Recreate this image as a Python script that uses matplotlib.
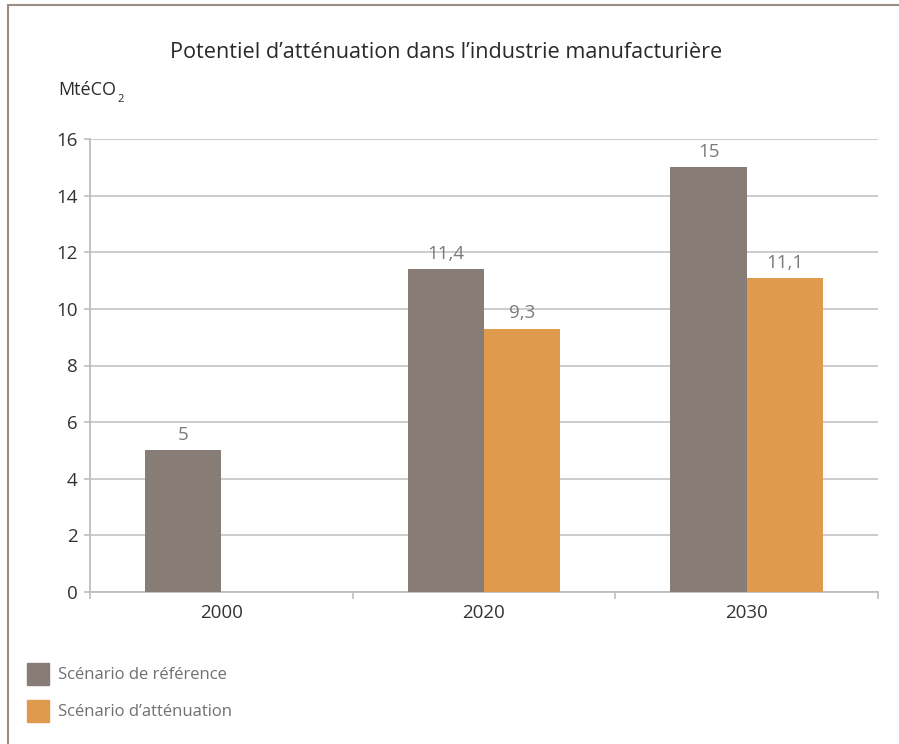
import matplotlib
matplotlib.use("Agg")
import matplotlib.pyplot as plt
from matplotlib.patches import Rectangle
from matplotlib.lines import Line2D
import numpy as np

plt.rcParams['font.family'] = ['Open Sans', 'DejaVu Sans']

years = ["2000", "2020", "2030"]
reference = [5, 11.4, 15]
mitigation = [None, 9.3, 11.1]
series_names = ["Scénario de référence", "Scénario d\u2019atténuation"]
title = "Potentiel d\u2019atténuation dans l\u2019industrie manufacturière"
unit = "MtéCO"
unit_sub = "2"
yticks = [0, 2, 4, 6, 8, 10, 12, 14, 16]

grey = "#877d76"
orange = "#e09a4e"
label_col = "#7b7b7b"
tick_col = "#333333"
frame_col = "#9c8c86"

W, H = 899, 744
fig = plt.figure(figsize=(W / 100, H / 100), dpi=100)
ax = fig.add_axes([90 / W, 1 - 592 / H, (878 - 90) / W, (592 - 139) / H])

x = np.arange(len(years))
bw = 0.29

def fmt(v):
    s = f"{v:g}"
    return s.replace(".", ",")

for i, v in enumerate(reference):
    ax.bar(x[i] - bw / 2, v, bw, color=grey, zorder=3)
    ax.text(x[i] - bw / 2, v + 0.22, fmt(v), ha="center", va="bottom",
            fontsize=13.5, color=label_col, zorder=4)
for i, v in enumerate(mitigation):
    if v is None:
        continue
    ax.bar(x[i] + bw / 2, v, bw, color=orange, zorder=3)
    ax.text(x[i] + bw / 2, v + 0.22, fmt(v), ha="center", va="bottom",
            fontsize=13.5, color=label_col, zorder=4)

ax.set_xlim(-0.5, 2.5)
ax.set_ylim(0, 16)
ax.set_yticks(yticks)
ax.set_yticklabels([str(t) for t in yticks])
ax.yaxis.grid(True, color="#c8c8c8", linewidth=1.3, zorder=0)
ax.set_axisbelow(True)

ax.set_xticks(x)
ax.set_xticklabels(years)
ax.set_xticks([-0.5, 0.5, 1.5, 2.5], minor=True)
ax.tick_params(axis="x", which="major", length=0, pad=9, labelsize=13.5, labelcolor=tick_col)
ax.tick_params(axis="x", which="minor", length=5, color="#bdbdbd", width=1.2)
ax.tick_params(axis="y", length=4, color="#bdbdbd", width=1.2, pad=5, labelsize=13.5, labelcolor=tick_col)

for side in ["top", "right"]:
    ax.spines[side].set_visible(False)
for side in ["left", "bottom"]:
    ax.spines[side].set_color("#bdbdbd")
    ax.spines[side].set_linewidth(1.3)

fig.text(446 / W, 1 - 52 / H, title, ha="center", va="center", fontsize=15.6, color="#2a2a2a")
t_unit = fig.text(58 / W, 1 - 90 / H, unit, ha="left", va="center", fontsize=13, color="#2a2a2a")
fig.canvas.draw()
bb = t_unit.get_window_extent()
fig.text(bb.x1 / W + 1 / W, 1 - 99 / H, unit_sub, ha="left", va="center", fontsize=8, color="#2a2a2a")

# frame lines along top and left edges
fig.add_artist(Line2D([8 / W, 8 / W], [0, 1 - 5 / H], transform=fig.transFigure, color=frame_col, linewidth=1.5))
fig.add_artist(Line2D([8 / W, 1], [1 - 5 / H, 1 - 5 / H], transform=fig.transFigure, color=frame_col, linewidth=1.5))

# legend
for k, (name, col) in enumerate(zip(series_names, [grey, orange])):
    top = 663 + k * 37
    fig.add_artist(Rectangle((27 / W, 1 - (top + 22) / H), 22 / W, 22 / H,
                             transform=fig.transFigure, color=col))
    fig.text(58 / W, 1 - (top + 12) / H, name, ha="left", va="center",
             fontsize=12, color="#707070")

fig.savefig("out.png", dpi=100, facecolor="white")
